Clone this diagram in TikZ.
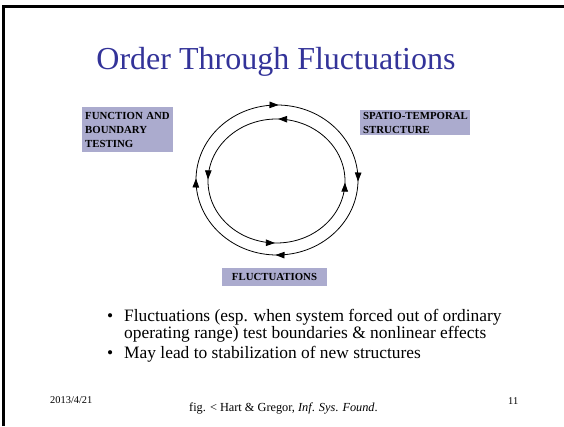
\documentclass[tikz,border=0pt]{standalone}
\usepackage{fontspec}
\setmainfont{Liberation Serif}
\usepackage{xcolor}
\definecolor{titleblue}{HTML}{333399}
\definecolor{tagfill}{HTML}{ABABCE}
\usetikzlibrary{arrows.meta, positioning, decorations.markings}

\begin{document}
\begin{tikzpicture}[
  x=1pt, y=1pt,
  tag/.style={
    fill=tagfill, font=\fontsize{10.8}{14}\selectfont\bfseries,
    align=left, inner xsep=3pt, inner ysep=2pt
  },
  loop/.style={
    line width=0.8pt,
    decoration={markings,
      mark=between positions 0.125 and 0.875 step 0.25
        with {\arrow{Triangle[length=9pt,width=6.5pt]}}},
    postaction={decorate}
  },
  line/.style={font=\fontsize{17.4}{18}\selectfont, anchor=base west, inner sep=0pt},
  foot/.style={font=\fontsize{10.4}{12}\selectfont, anchor=base west, inner sep=0pt}
]
  \useasboundingbox (0,0) rectangle (564,426);
  % slide frame
  \draw[line width=3pt] (3.5,0) -- (3.5,419) -- (564,419);

  \node[text=titleblue, font=\fontsize{32}{36}\selectfont, anchor=base] (title)
    at (276,356) {Order Through Fluctuations};

  % the two loops
  \coordinate (hub) at (277,246);
  \coordinate (hubin) at (276.5,245);
  \draw[loop] (hub) ++(405:81 and 75)
    arc[start angle=405, end angle=45, x radius=81, y radius=75];
  \draw[loop] (hubin) ++(45:68.5 and 62)
    arc[start angle=45, end angle=405, x radius=68.5, y radius=62];

  \node[tag, anchor=north west, text width=85pt, minimum height=45pt] (func)
    at (82,319) {\mbox{FUNCTION AND}\\BOUNDARY\\TESTING};
  \node[tag, anchor=north west, text width=104pt, minimum height=24pt] (spatio)
    at (360,316) {\mbox{SPATIO-TEMPORAL}\\STRUCTURE};
  \node[tag, align=center, minimum width=105pt, minimum height=18pt] (fluct)
    at (274.5,149) {FLUCTUATIONS};

  % bullets
  \node[line] (b1) at (107,105) {\textbullet};
  \node[line] (l1) at (124,105) {Fluctuations (esp. when system forced out of ordinary};
  \node[line] (l2) at (124,88) {operating range) test boundaries \& nonlinear effects};
  \node[line] (b2) at (107,68) {\textbullet};
  \node[line] (l3) at (124,68) {May lead to stabilization of new structures};

  % footer
  \node[foot] (date) at (50,22.7) {2013/4/21};
  \node[foot, font=\fontsize{12.3}{14}\selectfont] (src) at (189,14.3)
    {fig. < Hart \& Gregor, \textit{Inf}. \textit{Sys}. \textit{Found}.};
  \node[foot] (num) at (508,22) {11};
\end{tikzpicture}
\end{document}
